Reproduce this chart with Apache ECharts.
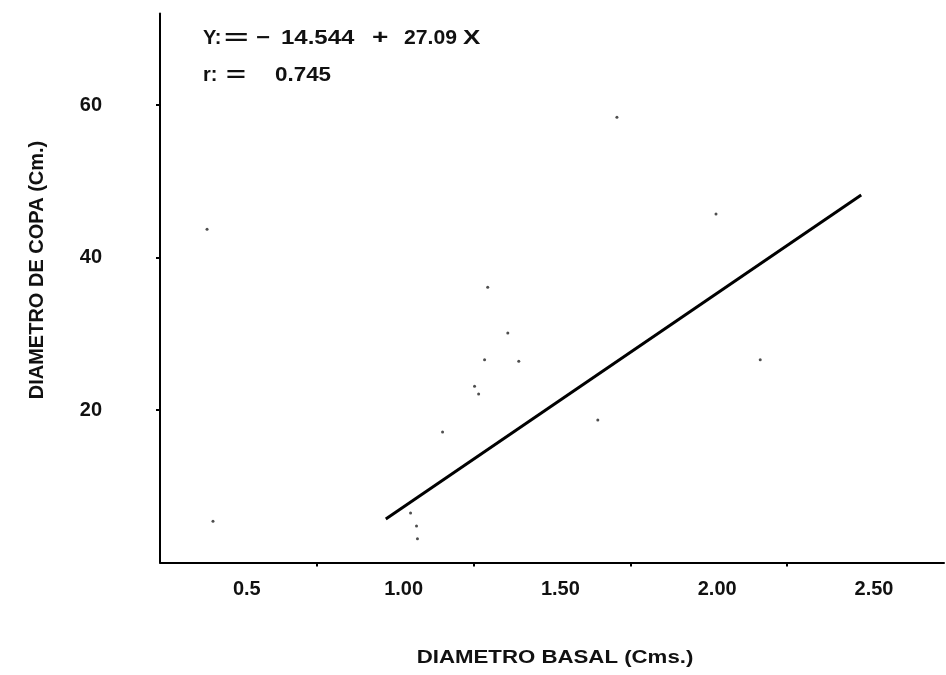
<!DOCTYPE html>
<html>
<head>
<meta charset="utf-8">
<script src="https://cdn.jsdelivr.net/npm/echarts@6/dist/echarts.min.js"></script>
<style>
html,body{margin:0;padding:0;background:#fff;}
#chart{width:946px;height:675px;}
</style>
</head>
<body>
<div id="chart"></div>
<script>
// ---- data ----
var xTickValues = [0.5, 1.0, 1.5, 2.0];
var xLabelValues = [0.5, 1.0, 1.5, 2.0, 2.5];
var xLabelTexts = ['0.5', '1.00', '1.50', '2.00', '2.50'];
var yTickValues = [20, 40, 60];
var yLabelTexts = ['20', '40', '60'];
var regressionX = [0.72, 2.236];
var regressionY = [5.7, 48.2];
var pointX = [0.15, 1.457, 1.773, 1.045, 1.109, 1.035, 1.144, 1.016, 1.003, 0.901, 1.914, 0.799, 0.818, 0.821, 0.169, 1.396];
var pointY = [43.7, 58.4, 45.7, 36.1, 30.1, 26.6, 26.4, 22.1, 23.1, 17.1, 26.6, 6.5, 4.8, 3.1, 5.4, 18.7];
var xTitle = 'DIAMETRO BASAL (Cms.)';
var yTitle = 'DIAMETRO DE COPA (Cm.)';
var eqTokens = ['Y:', '=', '\u2212', '14.544', '+', '27.09', 'X'];
var rTokens = ['r:', '=', '0.745'];

var FONT = '"Liberation Sans", Arial, Helvetica, sans-serif';
var INK = '#111';

var lineData = regressionX.map(function (x, i) { return [x, regressionY[i]]; });
var pointData = pointX.map(function (x, i) { return [x, pointY[i]]; });

// layout of the annotation tokens (pixel positions, horizontal stretch)
var eqX = [203, 224, 256, 281, 372, 404, 463];
var eqScale = [1.0, 2.1, 1.2, 1.2, 1.4, 1.06, 1.3];
var rX = [203, 226, 275];
var rScale = [1.0, 1.7, 1.12];

var graphics = [];
eqTokens.forEach(function (t, i) {
  graphics.push({ type: 'text', x: eqX[i], y: 38.5, scaleX: eqScale[i],
    style: { text: t, font: 'bold 20px ' + FONT, fill: INK, align: 'left', verticalAlign: 'middle' } });
});
rTokens.forEach(function (t, i) {
  graphics.push({ type: 'text', x: rX[i], y: 75, scaleX: rScale[i],
    style: { text: t, font: 'bold 20px ' + FONT, fill: INK, align: 'left', verticalAlign: 'middle' } });
});
graphics.push({ type: 'text', x: 555, y: 658, scaleX: 1.17,
  style: { text: xTitle, font: 'bold 19px ' + FONT, fill: INK, align: 'center', verticalAlign: 'middle' } });
graphics.push({ type: 'text', x: 37, y: 270, rotation: Math.PI / 2,
  style: { text: yTitle, font: 'bold 20px ' + FONT, fill: INK, align: 'center', verticalAlign: 'middle' } });

var chart = echarts.init(document.getElementById('chart'), null, { renderer: 'canvas' });
chart.setOption({
  animation: false,
  backgroundColor: '#fff',
  grid: { left: 160, right: 2, top: 13.5, bottom: 112.5, containLabel: false },
  xAxis: {
    type: 'value', min: 0, max: 2.5, interval: 0.5,
    axisLine: { show: true, onZero: false, lineStyle: { color: '#000', width: 2 } },
    axisTick: { show: true, length: 4, lineStyle: { color: '#000', width: 2 }, customValues: xTickValues },
    splitLine: { show: false },
    axisLabel: {
      customValues: xLabelValues,
      margin: 17,
      fontSize: 20, fontWeight: 'bold', fontFamily: FONT, color: INK,
      align: 'center', padding: [0, 140, 0, 0],
      formatter: function (v) {
        var i = xLabelValues.indexOf(v);
        return i >= 0 ? xLabelTexts[i] : '';
      }
    }
  },
  yAxis: {
    type: 'value', min: 0, max: 72, interval: 20,
    axisLine: { show: true, onZero: false, lineStyle: { color: '#000', width: 2 } },
    axisTick: { show: true, length: 4, lineStyle: { color: '#000', width: 2 }, customValues: yTickValues },
    splitLine: { show: false },
    axisLabel: {
      customValues: yTickValues,
      margin: 58,
      fontSize: 20, fontWeight: 'bold', fontFamily: FONT, color: INK,
      formatter: function (v) {
        var i = yTickValues.indexOf(v);
        return i >= 0 ? yLabelTexts[i] : '';
      }
    }
  },
  series: [
    {
      type: 'line', data: lineData, showSymbol: false, symbol: 'none',
      lineStyle: { color: '#000', width: 3 }, silent: true
    },
    {
      type: 'scatter', data: pointData, symbol: 'circle', symbolSize: 3,
      itemStyle: { color: '#222' }, silent: true
    }
  ],
  graphic: graphics
});
</script>
</body>
</html>
